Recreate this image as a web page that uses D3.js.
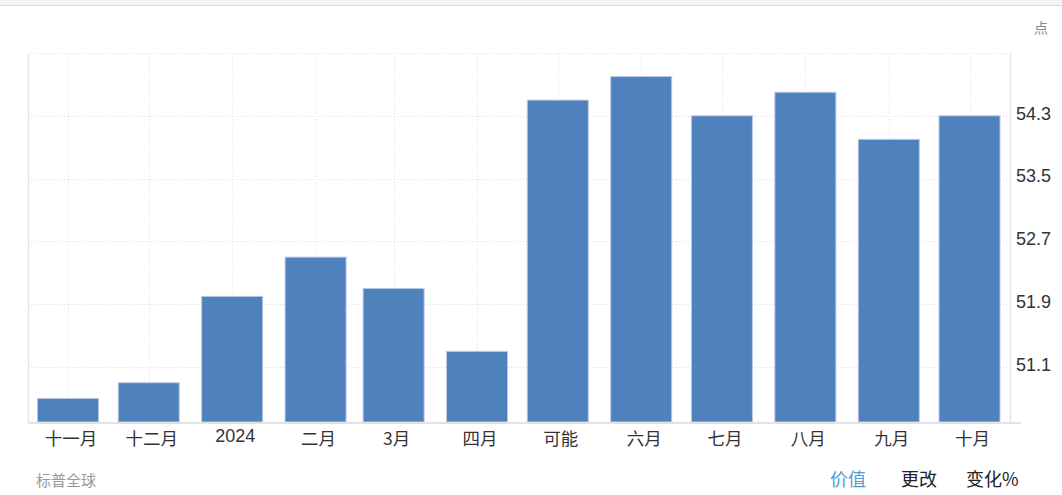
<!DOCTYPE html>
<html><head><meta charset="utf-8">
<script src="https://cdn.jsdelivr.net/npm/d3@7"></script>
<style>
html,body{margin:0;padding:0;background:#fff;}
svg{display:block;font-family:"Liberation Sans",Arial,"Noto Sans CJK SC",sans-serif;}
</style></head><body>
<svg id="c" width="1062" height="495"></svg>
<script>
const months = ["2023-11-01","2023-12-01","2024-01-01","2024-02-01","2024-03-01","2024-04-01","2024-05-01","2024-06-01","2024-07-01","2024-08-01","2024-09-01","2024-10-01"];
const labels = ["十一月","十二月","2024","二月","3月","四月","可能","六月","七月","八月","九月","十月"];
const values = [50.7,50.9,52.0,52.5,52.1,51.3,54.5,54.8,54.3,54.6,54.0,54.3];
const yTicks = [51.1,51.9,52.7,53.5,54.3];
const yGridTop = 55.1;
const yMin = 50.4;
const unit = "点";
const source = "标普全球";
const tabs = ["价值","更改","变化%"];

const parse = d3.timeParse("%Y-%m-%d");
const dates = months.map(parse);
const svg = d3.select("#c");
const L = 28, R = 1010, T = 53, B = 422;

const x = d3.scaleTime().domain([dates[0], dates[dates.length-1]]).range([68, 969.5]);
const y = d3.scaleLinear().domain([yMin, yGridTop]).range([B, T]);

// top bar
svg.append("rect").attr("x",0).attr("y",0).attr("width",1062).attr("height",5).attr("fill","#f4f4f4");
svg.append("line").attr("x1",0).attr("x2",1062).attr("y1",5.5).attr("y2",5.5).attr("stroke","#dcdcdc").attr("stroke-width",1);

// horizontal grid
const gridVals = yTicks.concat([yGridTop]);
svg.append("g").selectAll("line").data(gridVals).join("line")
  .attr("x1",L).attr("x2",R-3)
  .attr("y1",d=>Math.round(y(d))+0.5).attr("y2",d=>Math.round(y(d))+0.5)
  .attr("stroke","#e0e0e0").attr("stroke-dasharray","1,2");
// vertical grid
svg.append("g").selectAll("line").data(dates).join("line")
  .attr("x1",d=>Math.round(x(d))+0.5).attr("x2",d=>Math.round(x(d))+0.5)
  .attr("y1",T).attr("y2",B)
  .attr("stroke","#e0e0e0").attr("stroke-dasharray","1,2");

// borders
svg.append("line").attr("x1",L+0.5).attr("x2",L+0.5).attr("y1",T).attr("y2",B+1).attr("stroke","#e6e6e6").attr("stroke-width",1.5);
svg.append("line").attr("x1",R+0.5).attr("x2",R+0.5).attr("y1",T).attr("y2",B+1).attr("stroke","#e6e6e6").attr("stroke-width",1.5);

// bars
const bw = 61;
svg.append("g").selectAll("rect").data(values).join("rect")
  .attr("x",(d,i)=>x(dates[i])-bw/2)
  .attr("y",d=>y(d))
  .attr("width",bw)
  .attr("height",d=>B-y(d))
  .attr("fill","#4f81bd")
  .attr("stroke","#b8c9e4").attr("stroke-width",1);

// bottom axis line
svg.append("line").attr("x1",L).attr("x2",1021).attr("y1",423).attr("y2",423).attr("stroke","#e3e3e3").attr("stroke-width",2);

// y labels
svg.append("g").selectAll("text").data(yTicks).join("text")
  .attr("x",1016).attr("y",d=>y(d)+3.8)
  .attr("font-size",18).attr("fill","#333").text(d=>d3.format(".1f")(d));

// x labels
svg.append("g").selectAll("text").data(labels).join("text")
  .attr("x",(d,i)=>x(dates[i])+3)
  .attr("y",(d,i)=>/^\d{4}$/.test(d)?441.5:445)
  .attr("text-anchor","middle")
  .attr("font-size",(d)=>/^\d{4}$/.test(d)?18:17.5)
  .attr("fill","#333")
  .style("font-family",(d)=>/^\d{4}$/.test(d)?'"Liberation Sans",Arial,sans-serif':'"Noto Sans CJK SC","Liberation Sans",sans-serif')
  .text(d=>d);

// unit
svg.append("text").attr("x",1048).attr("y",33).attr("text-anchor","end")
  .attr("font-size",14).attr("fill","#888").style("font-family",'"Noto Sans CJK SC",sans-serif').text(unit);

// source
svg.append("text").attr("x",36).attr("y",486).attr("font-size",15).attr("fill","#999")
  .style("font-family",'"Noto Sans CJK SC",sans-serif').text(source);

// tabs
const tabX = [830, 901, 966];
svg.append("g").selectAll("text").data(tabs).join("text")
  .attr("x",(d,i)=>tabX[i]).attr("y",486)
  .attr("font-size",18)
  .attr("fill",(d,i)=>i===0?"#4a9ee0":"#222")
  .style("font-family",'"Noto Sans CJK SC",sans-serif')
  .text(d=>d);
</script>
</body></html>
